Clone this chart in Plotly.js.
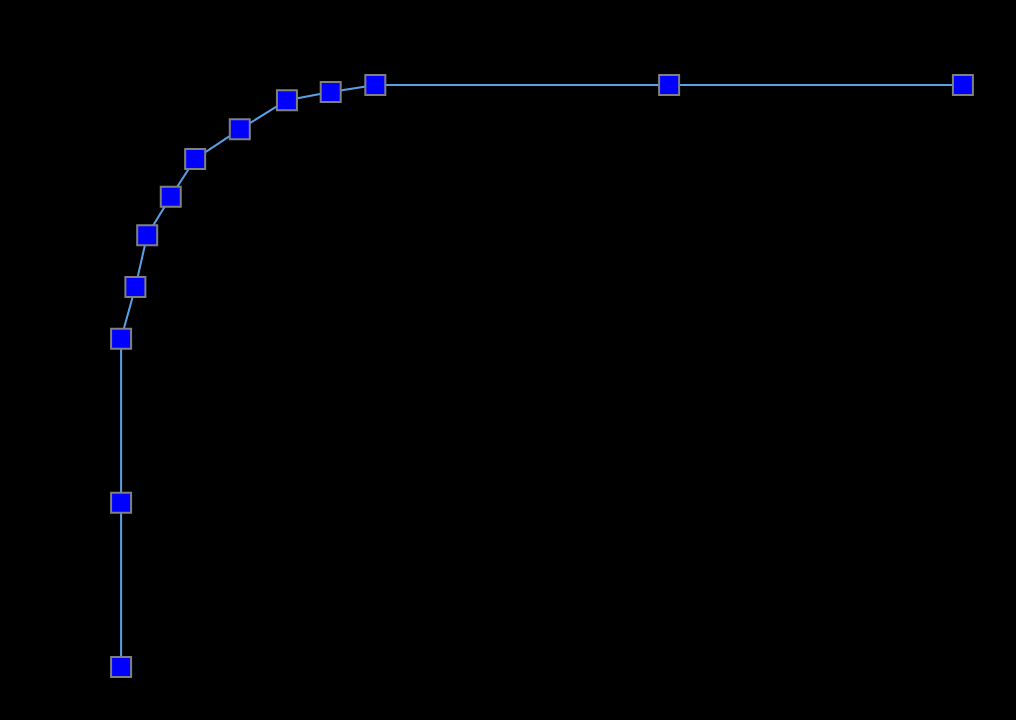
<!DOCTYPE html>
<html>
<head>
<meta charset="utf-8">
<script src="https://cdn.plot.ly/plotly-3.0.1.min.js"></script>
<style>html,body{margin:0;padding:0;background:#000;}#chart{width:1016px;height:720px;}</style>
</head>
<body>
<div id="chart"></div>
<script>
const xValues = [0, 0, 0, 0.017, 0.031, 0.059, 0.088, 0.141, 0.197, 0.249, 0.302, 0.651, 1.0];
const yValues = [0, 0.282, 0.564, 0.653, 0.742, 0.808, 0.873, 0.924, 0.974, 0.988, 1.0, 1.0, 1.0];

const trace = {
  x: xValues,
  y: yValues,
  type: 'scatter',
  mode: 'lines+markers',
  line: {color: 'rgb(90,160,230)', width: 2},
  marker: {symbol: 'square', size: 20, color: '#0000ff', line: {color: '#808080', width: 2}},
  cliponaxis: false,
  hoverinfo: 'x+y'
};

const layout = {
  width: 1016,
  height: 720,
  paper_bgcolor: '#000',
  plot_bgcolor: '#000',
  margin: {l: 78.9, r: 10.9, t: 55.9, b: 23.9, pad: 0},
  showlegend: false,
  xaxis: {range: [-0.05, 1.05], visible: false, showgrid: false, zeroline: false},
  yaxis: {range: [-0.05, 1.05], visible: false, showgrid: false, zeroline: false}
};

Plotly.newPlot('chart', [trace], layout, {displayModeBar: false, staticPlot: true});
</script>
</body>
</html>
